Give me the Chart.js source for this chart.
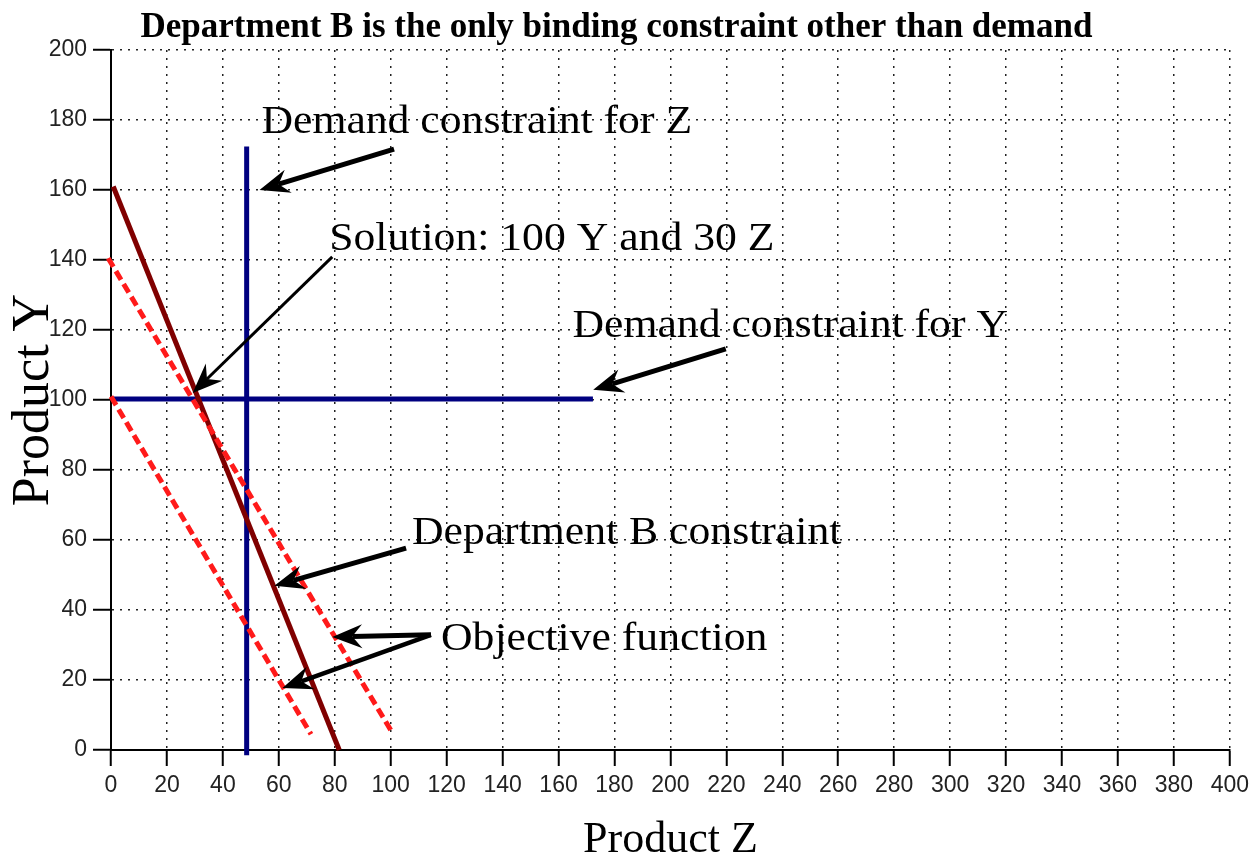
<!DOCTYPE html>
<html lang="en">
<head>
    <meta charset="UTF-8">
    <title>Department B is the only binding constraint other than demand</title>
    <script src="https://cdn.jsdelivr.net/npm/chart.js@4.4.0/dist/chart.umd.min.js"></script>
    <style>
        body {
            margin: 0;
            padding: 0;
            background-color: #ffffff;
        }
        #chartBox {
            width: 1255px;
            height: 862px;
        }
    </style>
</head>
<body>
    <div id="chartBox">
        <canvas id="lpChart" width="1255" height="862"></canvas>
    </div>

    <script>
        // axis ranges (Product Z across, Product Y up)
        const zRange = [0, 400];
        const yRange = [0, 200];
        const tickStep = [20, 20];

        // constraint and objective lines, as [Z, Y] end points
        const demandZ_Z = [48.5, 48.5];
        const demandZ_Y = [-1.5, 172.4];
        const demandY_Z = [0, 172.3];
        const demandY_Y = [100.3, 100.3];
        const deptB_Z = [0.8, 81.6];
        const deptB_Y = [161, 0];
        const objHigh_Z = [-1, 100];
        const objHigh_Y = [140.5, 5.7];
        const objLow_Z = [0, 71.5];
        const objLow_Y = [101, 4.5];

        // annotation labels (left edge, baseline) in data units
        const noteText = ['Demand constraint for Z', 'Solution: 100 Y and 30 Z', 'Demand constraint for Y',
                          'Department B constraint', 'Objective function'];
        const noteZ = [53.8, 78, 165, 107.6, 118];
        const noteY = [176.3, 142.9, 118, 59, 28.6];

        // arrows: tail -> head in data units
        const arrowFromZ = [101.2, 79.1, 219.8, 105.5, 114.4, 114.4];
        const arrowFromY = [171.7, 140.9, 114.6, 57.7, 32.9, 32.9];
        const arrowToZ = [53.1, 29.2, 172.4, 58.4, 79.1, 61.3];
        const arrowToY = [160, 102, 102.9, 46.9, 32.3, 17.7];
        const arrowWidth = [5, 3, 5, 5, 5, 4.5];

        function pts(zs, ys) {
            return zs.map((z, i) => ({ x: z, y: ys[i] }));
        }

        function drawArrow(ctx, x1, y1, x2, y2, w) {
            const ang = Math.atan2(y2 - y1, x2 - x1);
            const dx = Math.cos(ang), dy = Math.sin(ang);
            const len = 30, half = 12, notch = 20;
            ctx.lineWidth = w;
            ctx.beginPath();
            ctx.moveTo(x1, y1);
            ctx.lineTo(x2 - dx * notch, y2 - dy * notch);
            ctx.stroke();
            ctx.beginPath();
            ctx.moveTo(x2, y2);
            ctx.lineTo(x2 - dx * len - dy * half, y2 - dy * len + dx * half);
            ctx.lineTo(x2 - dx * notch, y2 - dy * notch);
            ctx.lineTo(x2 - dx * len + dy * half, y2 - dy * len - dx * half);
            ctx.closePath();
            ctx.fill();
        }

        const annotations = {
            id: 'annotations',
            afterDatasetsDraw(chart) {
                const ctx = chart.ctx;
                const xs = chart.scales.x, ys = chart.scales.y;
                ctx.save();
                ctx.strokeStyle = '#000';
                ctx.fillStyle = '#000';
                ctx.lineCap = 'butt';
                arrowFromZ.forEach((z, i) => {
                    drawArrow(ctx, xs.getPixelForValue(z), ys.getPixelForValue(arrowFromY[i]),
                        xs.getPixelForValue(arrowToZ[i]), ys.getPixelForValue(arrowToY[i]), arrowWidth[i]);
                });
                ctx.font = '39px "Liberation Serif", "Times New Roman", serif';
                ctx.textAlign = 'left';
                ctx.textBaseline = 'alphabetic';
                noteText.forEach((t, i) => {
                    ctx.save();
                    ctx.translate(xs.getPixelForValue(noteZ[i]), ys.getPixelForValue(noteY[i]));
                    ctx.scale(1.12, 1);
                    ctx.fillText(t, 0, 0);
                    ctx.restore();
                });
                ctx.restore();
            }
        };

        const lineBase = { showLine: true, pointRadius: 0, fill: false, clip: false, borderCapStyle: 'butt' };

        new Chart(document.getElementById('lpChart'), {
            type: 'scatter',
            data: {
                datasets: [
                    { ...lineBase, label: 'Demand constraint for Z', data: pts(demandZ_Z, demandZ_Y), borderColor: '#000080', borderWidth: 5, order: 3 },
                    { ...lineBase, label: 'Demand constraint for Y', data: pts(demandY_Z, demandY_Y), borderColor: '#000080', borderWidth: 5, order: 3 },
                    { ...lineBase, label: 'Department B constraint', data: pts(deptB_Z, deptB_Y), borderColor: '#800000', borderWidth: 5, order: 2 },
                    { ...lineBase, label: 'Objective function', data: pts(objHigh_Z, objHigh_Y), borderColor: '#ff1a1a', borderWidth: 5, borderDash: [10, 5], order: 1 },
                    { ...lineBase, label: 'Objective function 2', data: pts(objLow_Z, objLow_Y), borderColor: '#ff1a1a', borderWidth: 5, borderDash: [10, 5], order: 1 }
                ]
            },
            options: {
                responsive: false,
                animation: false,
                layout: { padding: { left: 0, right: 22, top: 0, bottom: 0 } },
                plugins: {
                    legend: { display: false },
                    tooltip: { enabled: false },
                    title: {
                        display: true,
                        text: 'Department B is the only binding constraint other than demand',
                        color: '#000',
                        font: { family: '"Liberation Serif", "Times New Roman", serif', size: 35, weight: 'bold', lineHeight: 1.2 },
                        padding: { top: 7, bottom: 1 }
                    }
                },
                scales: {
                    x: {
                        type: 'linear',
                        min: zRange[0],
                        max: zRange[1],
                        ticks: {
                            stepSize: tickStep[0],
                            autoSkip: false,
                            maxRotation: 0,
                            padding: 6,
                            color: '#222',
                            font: { family: '"Liberation Sans", Arial, sans-serif', size: 23 }
                        },
                        grid: {
                            color: '#222',
                            lineWidth: 1.5,
                            tickLength: 16,
                            tickColor: '#000',
                            tickWidth: 2,
                            tickBorderDash: []
                        },
                        border: { display: true, color: '#000', width: 2, dash: [2, 6] },
                        title: {
                            display: true,
                            text: 'Product Z',
                            color: '#000',
                            font: { family: '"Liberation Serif", "Times New Roman", serif', size: 44, lineHeight: 1 },
                            padding: { top: 0, bottom: 0 }
                        },
                        afterFit(scale) { scale.height = 112; }
                    },
                    y: {
                        type: 'linear',
                        min: yRange[0],
                        max: yRange[1],
                        ticks: {
                            stepSize: tickStep[1],
                            padding: 6,
                            color: '#222',
                            font: { family: '"Liberation Sans", Arial, sans-serif', size: 23 }
                        },
                        grid: {
                            color: '#222',
                            lineWidth: 1.5,
                            tickLength: 18,
                            tickColor: '#000',
                            tickWidth: 2,
                            tickBorderDash: []
                        },
                        border: { display: true, color: '#000', width: 2, dash: [2, 6] },
                        title: {
                            display: true,
                            text: 'Product Y',
                            color: '#000',
                            font: { family: '"Liberation Serif", "Times New Roman", serif', size: 52, lineHeight: 1 },
                            padding: { top: 8, bottom: 0 }
                        },
                        afterFit(scale) { scale.width = 111; }
                    }
                }
            },
            plugins: [annotations]
        });
    </script>
</body>
</html>
